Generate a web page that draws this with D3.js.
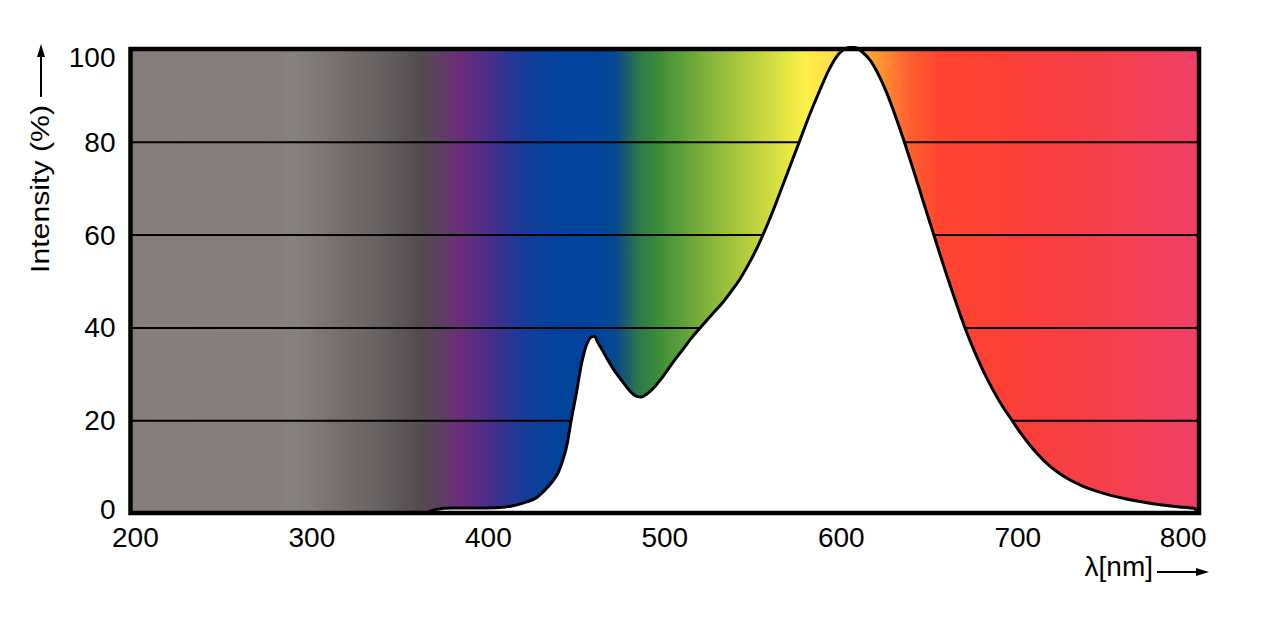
<!DOCTYPE html>
<html>
<head>
<meta charset="utf-8">
<script src="https://cdn.jsdelivr.net/npm/d3@7"></script>
<style>
	body { margin: 0; background: #fff; }
	svg { display: block; font-family: "Liberation Sans", Arial, sans-serif; }
</style>
</head>
<body>
<svg id="chart" width="1283" height="637"></svg>
<script>
// emission spectrum
var wavelength = [365, 370, 375, 380, 390, 400, 410, 416, 422, 428, 432.5, 437, 440, 442.5, 445, 447, 450, 453,
	456, 459, 460.5, 462, 465, 468, 472, 476, 480, 484, 487, 490, 494, 498, 505, 511, 516, 521, 527, 533, 538,
	543, 548, 553, 558, 563, 568, 573, 577, 582, 588, 593, 597, 601, 605, 608, 612, 617, 622, 626, 631, 636,
	640, 644, 648, 652, 656, 660, 664, 668, 672, 676, 681, 687, 692, 697, 702, 707, 712, 717, 723, 730, 737,
	745, 753, 762, 772, 782, 792, 798, 801, 801.6];
var intensity = [0, 0.7, 1.0, 1.1, 1.1, 1.1, 1.3, 1.7, 2.4, 3.4, 5, 7, 8.8, 11.4, 15, 19.5, 25.5, 32,
	36.3, 38, 38.1, 37, 35, 33, 30.5, 28.5, 26.5, 25.2, 25, 25.6, 27, 28.8, 32.5, 35.5, 38, 40.2, 42.8, 45.3, 47.8,
	50.5, 53.8, 57.5, 61.8, 66.5, 71.5, 76.5, 80.5, 85.5, 91, 95.3, 98, 99.7, 100.3, 100.3, 99.4, 97.4, 94, 90.6, 85.5, 80,
	75.3, 70.5, 65.6, 60.8, 56, 51.3, 46.8, 42.4, 38.3, 34.6, 30.4, 26, 22.8, 20, 17.2, 14.7, 12.5, 10.6, 8.8, 7.1, 5.8,
	4.7, 3.8, 3.0, 2.3, 1.7, 1.3, 1.1, 0.9, 0];

// background spectrum colours
var stopWavelength = [198, 282, 289, 310, 339, 361, 373, 384, 401, 412, 424, 441, 463, 472, 478, 486, 495,
	515, 531, 554, 571, 580, 594, 611, 625, 639, 656, 690, 718, 758, 803];
var stopColor = ["#857d7a", "#867e7b", "#88827e", "#7b7371", "#676060", "#544c4e", "#5e3f62", "#6d2c7b",
	"#4a2e8c", "#2a3592", "#0f3e9a", "#02439c", "#00449c", "#05488f", "#1a5a70", "#2f7a48", "#3a8a3a",
	"#6aa83a", "#8fbb3c", "#c3d43f", "#e8e845", "#fdf04a", "#ffe045", "#ffb83a", "#ff8a30", "#ff6030",
	"#ff4530", "#fc4035", "#f83e40", "#f4404d", "#ee3f68"];

var xTicks = [200, 300, 400, 500, 600, 700, 800];
var yTicks = [0, 20, 40, 60, 80, 100];
var gridTicks = [20, 40, 60, 80];

var svg = d3.select("#chart");
var plotLeft = 130.5, plotRight = 1199, plotTop = 49, plotBottom = 513;

var x = d3.scaleLinear().domain([197.5, 803]).range([plotLeft, plotRight]);
var y = d3.scaleLinear().domain([0, 100]).range([plotBottom, plotTop]);

var points = wavelength.map(function(w, i) { return [w, intensity[i]]; });

// spectrum gradient
var defs = svg.append("defs");
var grad = defs.append("linearGradient")
	.attr("id", "spectrum")
	.attr("gradientUnits", "userSpaceOnUse")
	.attr("x1", plotLeft).attr("x2", plotRight)
	.attr("y1", 0).attr("y2", 0);
grad.selectAll("stop")
	.data(stopWavelength)
	.enter().append("stop")
	.attr("offset", function(d) { return (x(d) - plotLeft) / (plotRight - plotLeft); })
	.attr("stop-color", function(d, i) { return stopColor[i]; });

svg.append("rect")
	.attr("x", plotLeft).attr("y", plotTop)
	.attr("width", plotRight - plotLeft).attr("height", plotBottom - plotTop)
	.attr("fill", "url(#spectrum)");

// grid lines
var grid = svg.append("g")
	.attr("transform", "translate(" + plotLeft + ",0)")
	.call(d3.axisLeft(y).tickValues(gridTicks).tickSize(-(plotRight - plotLeft)).tickFormat(""));
grid.select(".domain").remove();
grid.selectAll("line").attr("stroke", "#000").attr("stroke-width", 2);

// white area under the curve, then the curve
var area = d3.area()
	.x(function(d) { return x(d[0]); })
	.y0(plotBottom)
	.y1(function(d) { return y(d[1]); })
	.curve(d3.curveMonotoneX);
var line = d3.line()
	.x(function(d) { return x(d[0]); })
	.y(function(d) { return y(d[1]); })
	.curve(d3.curveMonotoneX);

svg.append("path").attr("d", area(points)).attr("fill", "#fff");
svg.append("path").attr("d", line(points))
	.attr("fill", "none")
	.attr("stroke", "#000")
	.attr("stroke-width", 3)
	.attr("stroke-linejoin", "round");

// frame
svg.append("rect")
	.attr("x", plotLeft).attr("y", plotTop)
	.attr("width", plotRight - plotLeft).attr("height", plotBottom - plotTop)
	.attr("fill", "none")
	.attr("stroke", "#000")
	.attr("stroke-width", 4.5);

// axes labels
var yAxis = svg.append("g")
	.attr("transform", "translate(" + plotLeft + ",0)")
	.call(d3.axisLeft(y).tickValues(yTicks).tickSize(0).tickPadding(15));
yAxis.select(".domain").remove();
yAxis.selectAll("text")
	.attr("font-size", 28)
	.attr("font-family", "Liberation Sans, Arial, sans-serif")
	.attr("fill", "#000")
	.attr("dy", function(d) { return d == 100 ? "0.64em" : d == 0 ? "0.2em" : "0.34em"; });

var xAxis = svg.append("g")
	.attr("transform", "translate(0," + plotBottom + ")")
	.call(d3.axisBottom(x).tickValues(xTicks).tickSize(0).tickPadding(14));
xAxis.select(".domain").remove();
xAxis.selectAll("text")
	.attr("font-size", 28)
	.attr("font-family", "Liberation Sans, Arial, sans-serif")
	.attr("fill", "#000")
	.attr("dx", function(d) { return d == 800 ? -11 : 0; });

// axis titles with arrows
svg.append("text")
	.attr("transform", "translate(49,189) rotate(-90)")
	.attr("text-anchor", "middle")
	.attr("font-size", 26)
	.attr("textLength", 168)
	.attr("lengthAdjust", "spacingAndGlyphs")
	.text("Intensity (%)");

svg.append("line")
	.attr("x1", 41).attr("x2", 41)
	.attr("y1", 97).attr("y2", 55)
	.attr("stroke", "#000").attr("stroke-width", 2);
svg.append("path")
	.attr("d", d3.line()([[41, 44], [37, 57], [45, 57]]) + "Z")
	.attr("fill", "#000");

svg.append("text")
	.attr("x", 1153).attr("y", 576)
	.attr("text-anchor", "end")
	.attr("font-size", 28)
	.text("λ[nm]");

svg.append("line")
	.attr("x1", 1157).attr("x2", 1197)
	.attr("y1", 572).attr("y2", 572)
	.attr("stroke", "#000").attr("stroke-width", 2);
svg.append("path")
	.attr("d", d3.line()([[1209, 572], [1196, 568], [1196, 576]]) + "Z")
	.attr("fill", "#000");
</script>
</body>
</html>
